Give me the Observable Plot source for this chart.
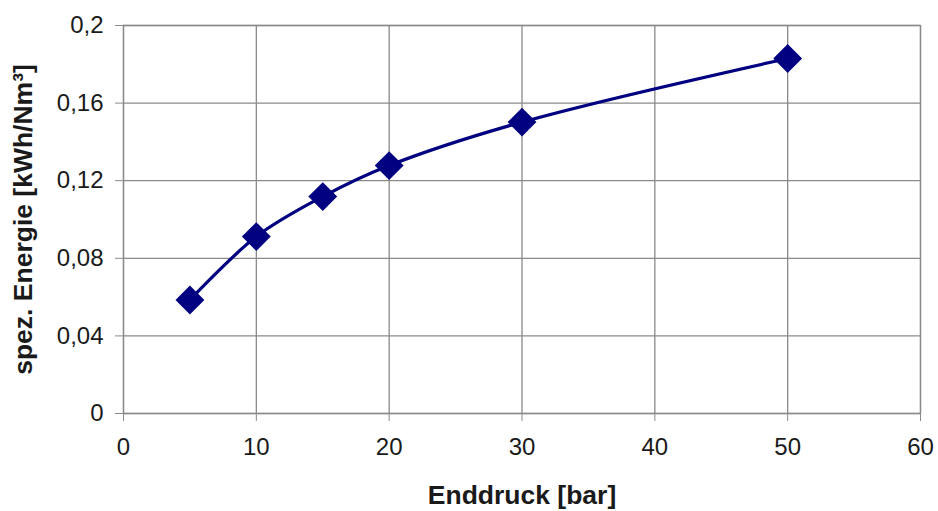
<!DOCTYPE html>
<html>
<head>
<meta charset="utf-8">
<script src="https://cdn.jsdelivr.net/npm/d3@7"></script>
<script src="https://cdn.jsdelivr.net/npm/@observablehq/plot@0.6"></script>
<style>
  html, body { margin: 0; padding: 0; background: #fff; }
  #chart svg { display: block; }
</style>
</head>
<body>
<div id="chart"></div>
<script>
const pressure = [5, 10, 15, 20, 30, 50];
const energy = [0.0585, 0.0912, 0.1118, 0.1278, 0.1502, 0.1830];
const xTicks = [0, 10, 20, 30, 40, 50, 60];
const yTicks = [0, 0.04, 0.08, 0.12, 0.16, 0.2];
const yTickLabels = ["0", "0,04", "0,08", "0,12", "0,16", "0,2"];
const xLabel = "Enddruck [bar]";
const yLabel = "spez. Energie [kWh/Nm³]";

const data = pressure.map((p, i) => ({p, e: energy[i]}));
const grid = "#8a8a8a";
const navy = "#000080";

const chart = Plot.plot({
  width: 938,
  height: 511,
  marginLeft: 123,
  marginRight: 18,
  marginTop: 25,
  marginBottom: 98,
  style: {fontFamily: "'Liberation Sans', Arial, sans-serif", background: "#fff", color: "#1a1a1a"},
  x: {domain: [0, 60]},
  y: {domain: [0, 0.2]},
  marks: [
    Plot.gridX(xTicks, {stroke: grid, strokeOpacity: 1, strokeWidth: 1.3}),
    Plot.gridY(yTicks, {stroke: grid, strokeOpacity: 1, strokeWidth: 1.3}),
    Plot.frame({stroke: grid, strokeWidth: 1.3}),
    Plot.axisX(xTicks, {tickSize: 8, tickPadding: 16, fontSize: 24, stroke: grid, fill: "#1a1a1a",
      label: xLabel, labelAnchor: "center", labelOffset: 90, labelArrow: "none"}),
    Plot.axisY(yTicks, {tickSize: 8, tickPadding: 12, fontSize: 24, stroke: grid, fill: "#1a1a1a",
      tickFormat: (d, i) => yTickLabels[yTicks.indexOf(d)],
      label: yLabel, labelAnchor: "center", labelOffset: 110, labelArrow: "none"}),
    Plot.line(data, {x: "p", y: "e", stroke: navy, strokeWidth: 3.2, curve: "catmull-rom"}),
    Plot.dot(data, {x: "p", y: "e", symbol: "diamond2", r: 13, fill: navy, stroke: "none"})
  ]
});
document.getElementById("chart").appendChild(chart);
d3.select(chart).selectAll('[aria-label="x-axis label"], [aria-label="y-axis label"]')
  .attr("font-weight", "bold").attr("font-size", 26.5);
</script>
</body>
</html>
